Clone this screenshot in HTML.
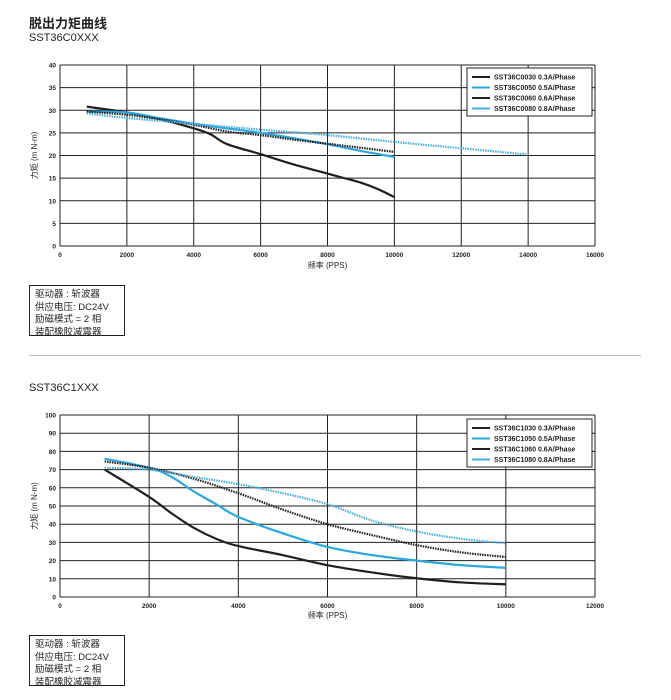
<!DOCTYPE html>
<html><head><meta charset="utf-8">
<style>
body{margin:0;background:#fff;width:671px;height:700px;overflow:hidden;font-family:"Liberation Sans","Noto Sans CJK SC",sans-serif;color:#231f20}
.t{position:absolute;white-space:nowrap}
.box{position:absolute;border:1px solid #231f20;font-size:9.5px;line-height:12.5px;padding:3px 5px;box-sizing:border-box}
</style></head><body>
<div class="t" style="left:29px;top:13px;font-size:13px;font-weight:bold">脱出力矩曲线</div>
<div class="t" style="left:29px;top:32px;font-size:11px">SST36C0XXX</div>
<svg id="c1" style="position:absolute;left:0;top:0" width="671" height="280"></svg>
<div class="box" style="left:29px;top:285px;width:96px;height:51px">驱动器 : 斩波器<br>供应电压: DC24V<br>励磁模式 = 2 相<br>装配橡胶减震器</div>
<div style="position:absolute;left:29px;top:355px;width:612px;height:1px;background:#bbb"></div>
<div class="t" style="left:29px;top:382px;font-size:11px">SST36C1XXX</div>
<svg id="c2" style="position:absolute;left:0;top:370px" width="671" height="260"></svg>
<div class="box" style="left:29px;top:635px;width:96px;height:51px">驱动器 : 斩波器<br>供应电压: DC24V<br>励磁模式 = 2 相<br>装配橡胶减震器</div>
<script>
// Chart 1 data
const c1Names=["SST36C0030  0.3A/Phase","SST36C0050  0.5A/Phase","SST36C0060  0.6A/Phase","SST36C0080  0.8A/Phase"];
const c1X0030=[800,2000,3000,4000,4500,5000,6000,7000,8000,8500,9000,9500,10000];
const c1Y0030=[30.8,29.5,28,26,24.7,22.5,20.3,18,16,15,14,12.6,10.8];
const c1X0050=[800,2000,3000,4000,5000,6000,7000,8000,9000,10000];
const c1Y0050=[29.7,29.5,28.2,27,26,25,23.8,22.5,21,19.7];
const c1X0060=[800,2000,3000,4000,5000,6000,7000,8000,9000,10000];
const c1Y0060=[29.7,29,28,26.8,25.3,24.5,23.5,22.6,21.7,20.8];
const c1X0080=[800,2000,4000,6000,8000,10000,12000,14000];
const c1Y0080=[29.3,28.3,27,25.7,24.5,23,21.6,20.2];
const c1XTicks=[0,2000,4000,6000,8000,10000,12000,14000,16000];
const c1YTicks=[0,5,10,15,20,25,30,35,40];
// Chart 2 data
const c2Names=["SST36C1030  0.3A/Phase","SST36C1050  0.5A/Phase","SST36C1060  0.6A/Phase","SST36C1080  0.8A/Phase"];
const c2X1030=[1000,2000,2500,3000,3500,4000,5000,6000,7000,8000,9000,10000];
const c2Y1030=[70,55,46,38,32,28,23,17.5,13.5,10.3,8,7];
const c2X1050=[1000,2000,2500,3000,3500,4000,5000,6000,7000,8000,9000,10000];
const c2Y1050=[76,71,66,58,51,44,35,27.5,23,20,17.5,16];
const c2X1060=[1000,2000,3000,4000,5000,6000,7000,8000,9000,10000];
const c2Y1060=[74.5,71,65,57,48,40,34,28.5,24.5,22];
const c2X1080=[1000,2000,3000,4000,5000,6000,7000,8000,9000,10000];
const c2Y1080=[71,70,66,62,57,51,42,36,32,29.5];
const c2XTicks=[0,2000,4000,6000,8000,10000,12000];
const c2YTicks=[0,10,20,30,40,50,60,70,80,90,100];

const NS="http://www.w3.org/2000/svg";
const styles=[{c:"#231f20",d:null},{c:"#29a9e1",d:null},{c:"#231f20",d:"1.5 1"},{c:"#4aaee0",d:"1.5 1"}];
function mk(svg,tag,attrs){const e=document.createElementNS(NS,tag);for(const k in attrs)e.setAttribute(k,attrs[k]);svg.appendChild(e);return e;}
function smooth(p){let d="M"+p[0][0]+","+p[0][1];for(let i=0;i<p.length-1;i++){const a=p[i-1]||p[i],b=p[i],c=p[i+1],e=p[i+2]||c;d+=" C"+(b[0]+(c[0]-a[0])/6)+","+(b[1]+(c[1]-a[1])/6)+" "+(c[0]-(e[0]-b[0])/6)+","+(c[1]-(e[1]-b[1])/6)+" "+c[0]+","+c[1];}return d;}
function draw(svg,L,R,T,B,xt,yt,series,names,legY,xlabY){
  const xmax=xt[xt.length-1],ymax=yt[yt.length-1];
  const sx=v=>L+(R-L)*v/xmax, sy=v=>B-(B-T)*v/ymax;
  yt.forEach(v=>{const l=mk(svg,"line",{x1:L,x2:R,y1:sy(v),y2:sy(v),stroke:"#231f20","stroke-width":1});
    
    const t=mk(svg,"text",{x:L-4,y:sy(v)+2.5,"text-anchor":"end","font-size":6.5,"font-weight":"bold",fill:"#231f20"});t.textContent=v;
    });
  xt.forEach(v=>{const l=mk(svg,"line",{x1:sx(v),x2:sx(v),y1:T,y2:B,stroke:"#231f20","stroke-width":1});
    
    const t=mk(svg,"text",{x:sx(v),y:B+11,"text-anchor":"middle","font-size":6.5,"font-weight":"bold",fill:"#231f20"});t.textContent=v;
    });
  series.forEach((s,i)=>{const pts=s[0].map((x,j)=>[sx(x),sy(s[1][j])]);
    const p=mk(svg,"path",{d:smooth(pts),fill:"none",stroke:styles[i].c,"stroke-width":2.2});
    if(styles[i].d)p.setAttribute("stroke-dasharray",styles[i].d);
    });
  const lg=mk(svg,"rect",{x:467,y:legY,width:125,height:48,fill:"#fff",stroke:"#231f20","stroke-width":1});
  
  names.forEach((n,i)=>{const y=legY+9+i*10.5;
    const l=mk(svg,"line",{x1:472,x2:490,y1:y,y2:y,stroke:styles[i].c,"stroke-width":2});
    
    const t=mk(svg,"text",{x:494,y:y+2.5,"font-size":7,"font-weight":"bold",fill:"#231f20","xml:space":"preserve"});t.textContent=n;
    });
  const xl=mk(svg,"text",{x:(L+R)/2,y:xlabY,"text-anchor":"middle","font-size":8,fill:"#231f20"});xl.textContent="频率 (PPS)";
  
  const yl=mk(svg,"text",{x:0,y:0,"text-anchor":"middle","font-size":8,fill:"#231f20",transform:"translate(37,"+((T+B)/2)+") rotate(-90)"});yl.textContent="力矩 (m N-m)";
  
}
draw(document.getElementById("c1"),60,595,65,246,c1XTicks,c1YTicks,
 [[c1X0030,c1Y0030],[c1X0050,c1Y0050],[c1X0060,c1Y0060],[c1X0080,c1Y0080]],c1Names,68,268);
draw(document.getElementById("c2"),60,595,45,227,c2XTicks,c2YTicks,
 [[c2X1030,c2Y1030],[c2X1050,c2Y1050],[c2X1060,c2Y1060],[c2X1080,c2Y1080]],c2Names,49,248);
</script>
</body></html>
